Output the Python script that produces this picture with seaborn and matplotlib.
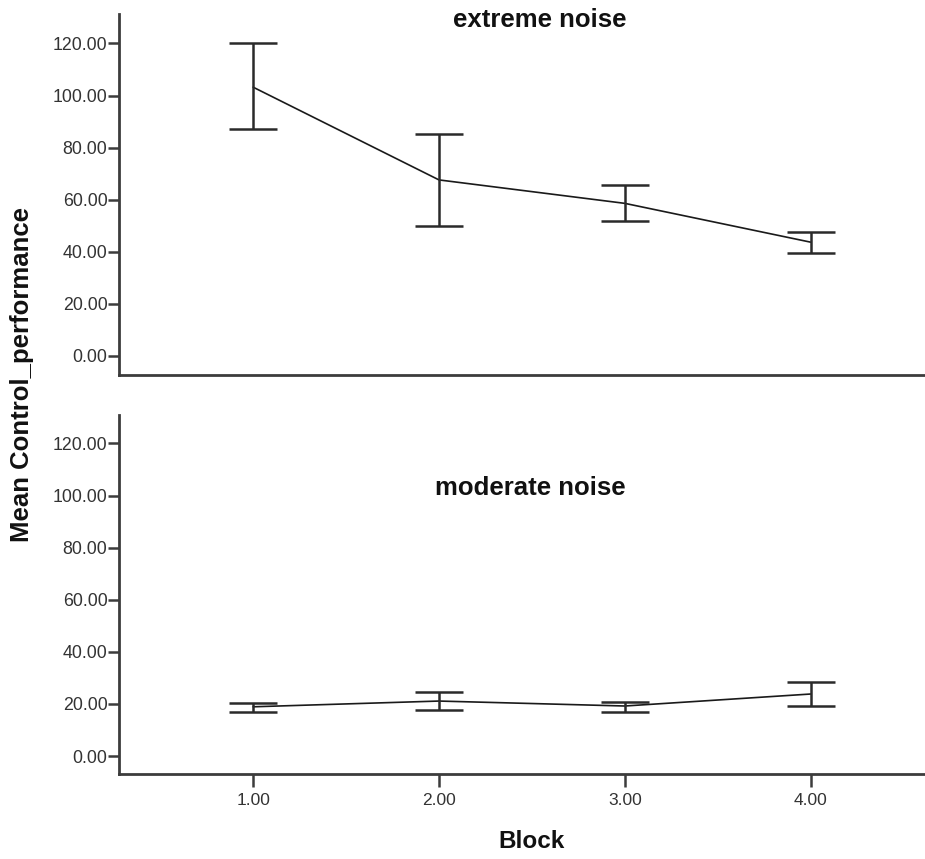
import matplotlib
matplotlib.use("Agg")
import matplotlib.pyplot as plt
import seaborn as sns
import pandas as pd

# ---- data ----
blocks = [1.0, 2.0, 3.0, 4.0]
x_tick_labels = ["1.00", "2.00", "3.00", "4.00"]
y_ticks = [0, 20, 40, 60, 80, 100, 120]

extreme_mean = [103.2, 67.6, 58.6, 43.7]
extreme_upper = [120.0, 85.1, 65.7, 47.7]
extreme_lower = [87.0, 49.9, 51.7, 39.7]

moderate_mean = [18.9, 21.1, 19.2, 23.8]
moderate_upper = [20.2, 24.4, 20.6, 28.3]
moderate_lower = [17.0, 17.7, 17.0, 19.3]

panel_titles = ["extreme noise", "moderate noise"]

sns.set_theme(style="white")
plt.rcParams["font.family"] = ["Liberation Sans", "DejaVu Sans"]

W, H = 925, 859
fig = plt.figure(figsize=(W / 100, H / 100), dpi=100)
fig.patch.set_facecolor("white")

ax1 = fig.add_axes([119 / W, 1 - 375 / H, (924 - 119) / W, (375 - 14) / H])
ax2 = fig.add_axes([119 / W, 1 - 774 / H, (924 - 119) / W, (774 - 415) / H])

spine_col = "#3c3c3c"
line_col = "#1a1a1a"


def draw_panel(ax, mean, upper, lower, ylim):
    df = pd.DataFrame({"Block": blocks, "Mean": mean})
    sns.lineplot(data=df, x="Block", y="Mean", ax=ax, color=line_col,
                 linewidth=1.2, marker=None, errorbar=None)
    yerr = [[m - lo for m, lo in zip(mean, lower)],
            [up - m for m, up in zip(mean, upper)]]
    ax.errorbar(blocks, mean, yerr=yerr, fmt="none", ecolor="#2a2a2a",
                elinewidth=1.8, capsize=17, capthick=1.8)
    ax.set_xlim(0.278, 4.61)
    ax.set_ylim(*ylim)
    ax.set_yticks(y_ticks)
    ax.set_yticklabels([f"{v:.2f}" for v in y_ticks])
    ax.set_xlabel("")
    ax.set_ylabel("")
    for s in ["top", "right"]:
        ax.spines[s].set_visible(False)
    for s in ["left", "bottom"]:
        ax.spines[s].set_color(spine_col)
        ax.spines[s].set_linewidth(2.0)
    ax.tick_params(axis="y", which="both", left=True, length=8, width=1.8,
                   color=spine_col, pad=0.3, labelsize=12.8, labelcolor="#333333")
    ax.set_facecolor("white")


draw_panel(ax1, extreme_mean, extreme_upper, extreme_lower, (-7.3, 131.3))
draw_panel(ax2, moderate_mean, moderate_upper, moderate_lower, (-6.9, 130.9))

ax1.set_xticks([])
ax2.set_xticks(blocks)
ax2.set_xticklabels(x_tick_labels)
ax2.tick_params(axis="x", which="both", bottom=True, length=9, width=1.8,
                color=spine_col, pad=5, labelsize=12.5, labelcolor="#333333")

fig.text(540 / W, 1 - 20 / H, panel_titles[0], ha="center", va="center",
         fontsize=18.5, fontweight="bold", color="#111111")
fig.text(530 / W, 1 - 488 / H, panel_titles[1], ha="center", va="center",
         fontsize=18.5, fontweight="bold", color="#111111")
fig.text(22 / W, 1 - 375 / H, "Mean Control_performance", rotation=90,
         ha="center", va="center", fontsize=18.5, fontweight="bold", color="#111111")
fig.text(532 / W, 1 - 842 / H, "Block", ha="center", va="center",
         fontsize=17.5, fontweight="bold", color="#111111")

fig.savefig("out.png", dpi=100, facecolor="white")
